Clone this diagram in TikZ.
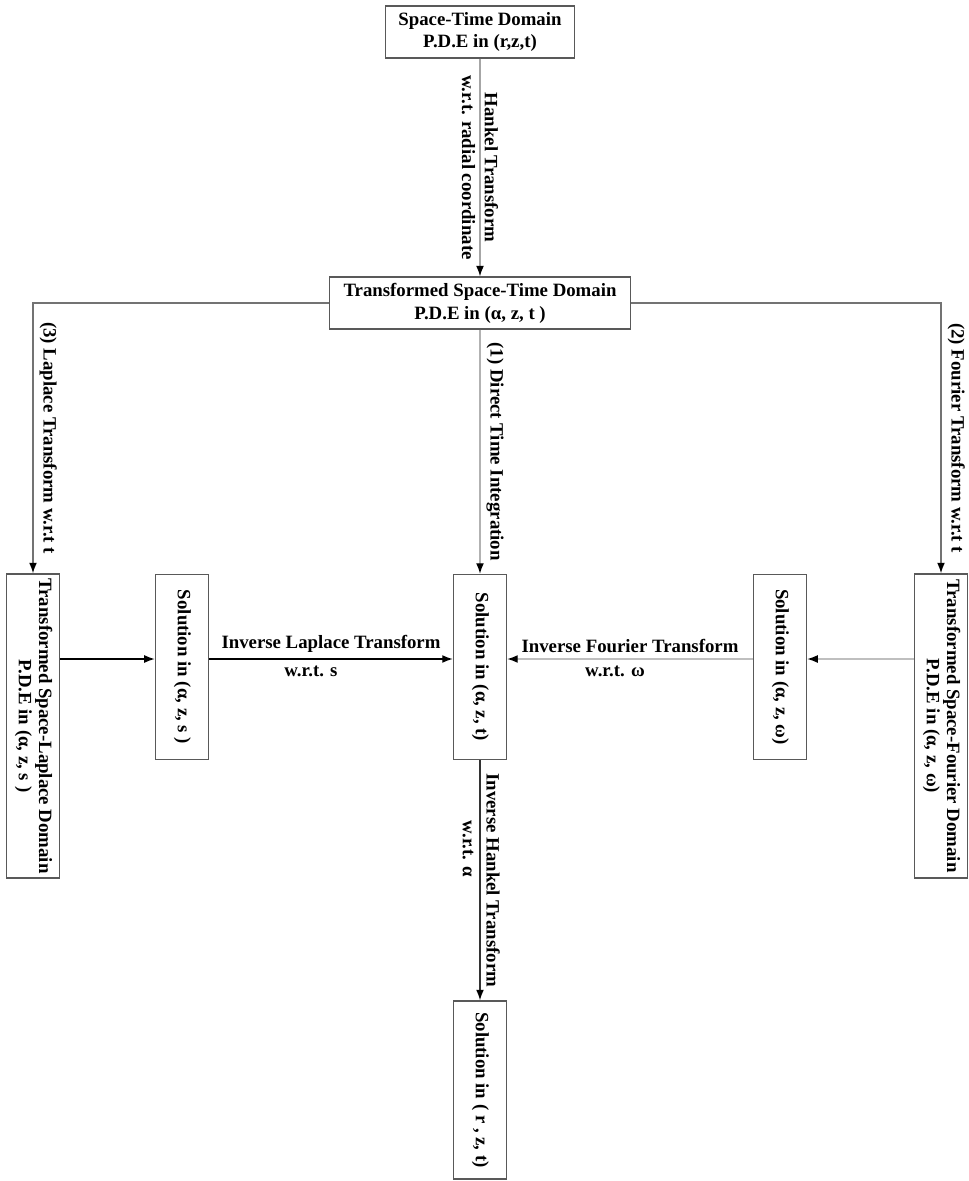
\documentclass[tikz,border=0pt]{standalone}
\usepackage{fontspec}
\setmainfont{Liberation Serif}
\usetikzlibrary{arrows.meta, positioning}
\newcommand{\sidetext}[1]{\rotatebox{-90}{\renewcommand{\arraystretch}{0.88}\begin{tabular}{@{}c@{}}#1\end{tabular}}}
\tikzstyle{pdebox} = [rectangle, draw=black!65, line width=0.8pt, text centered, align=center]
\tikzstyle{flatbox} = [pdebox, minimum width=3.78cm, minimum height=1.04cm]
\tikzstyle{widebox} = [pdebox, minimum width=6.02cm, minimum height=1.02cm]
\tikzstyle{tallbox} = [pdebox, minimum width=1.06cm, minimum height=6.08cm, inner sep=1pt]
\tikzstyle{solbox} = [pdebox, minimum width=1.06cm, minimum height=3.7cm]
\tikzstyle{arrow} = [line width=0.8pt, ->, >={Latex[length=6pt, width=4.5pt, color=black]}]
\tikzstyle{lbl} = [align=center]

\begin{document}
\begin{tikzpicture}[node distance=5.42cm, font=\fontsize{10.7}{13}\selectfont\bfseries]
        \useasboundingbox (-9.6,0.64) rectangle (9.76,-22.98);
        \node (space) [flatbox] {Space-Time Domain\\P.D.E in (r,z,t)};
        \node (trans) [widebox, below of=space] {Transformed Space-Time Domain\\P.D.E in (α, z, t )};
        \node (solt) [solbox, below of=trans, node distance=7.28cm] {\sidetext{Solution in (α, z, t)}};
        \node (sols) [solbox, left of=solt, node distance=5.96cm] {\sidetext{Solution in (α, z, s )}};
        \node (solw) [solbox, right of=solt, node distance=6cm] {\sidetext{Solution in (α, z, ω)}};
        \node (lap) [tallbox, left of=sols, node distance=2.98cm, yshift=-1.18cm] {\sidetext{Transformed Space-Laplace Domain\\P.D.E in (α, z, s )}};
        \node (four) [tallbox, right of=solw, node distance=3.22cm, yshift=-1.18cm] {\sidetext{Transformed Space-Fourier Domain\\P.D.E in (α, z, ω)}};
        \node (final) [solbox, below of=solt, node distance=8.46cm, minimum height=3.56cm] {\sidetext{Solution in ( r , z, t)}};
        
        \draw [arrow, draw=black!35] (space) -- (trans) node[lbl, midway, rotate=-90] {Hankel Transform\\w.r.t. radial coordinate};
        \draw [arrow, draw=black!55] (trans) -| (lap) node[pos=0.75, rotate=-90, above] {(3) Laplace Transform w.r.t t};
        \draw [arrow, draw=black!55] (trans) -| (four) node[pos=0.75, rotate=-90, above] {(2) Fourier Transform w.r.t t};
        \draw [arrow, draw=black!30] (trans) -- (solt) node[midway, rotate=-90, above] {(1) Direct Time Integration};
        \draw [arrow] ([yshift=0.16cm]sols.west -| lap.east) -- ([yshift=0.16cm]sols.west);
        \draw [arrow] ([yshift=0.16cm]sols.east) -- ([yshift=0.16cm]solt.west) node[midway, above] {Inverse Laplace Transform} node[midway, below, xshift=-0.4cm] {w.r.t. s};
        \draw [arrow, draw=black!25] ([yshift=0.16cm]solw.east -| four.west) -- ([yshift=0.16cm]solw.east);
        \draw [arrow, draw=black!25] ([yshift=0.16cm]solw.west) -- ([yshift=0.16cm]solt.east) node[midway, above] {Inverse Fourier Transform} node[midway, below, xshift=-0.3cm] {w.r.t. ω};
        \draw [arrow, draw=black!80] (solt) -- (final) node[midway, rotate=-90, above] {Inverse Hankel Transform} node[pos=0.37, rotate=-90, below] {w.r.t. α};
    \end{tikzpicture}
\end{document}
